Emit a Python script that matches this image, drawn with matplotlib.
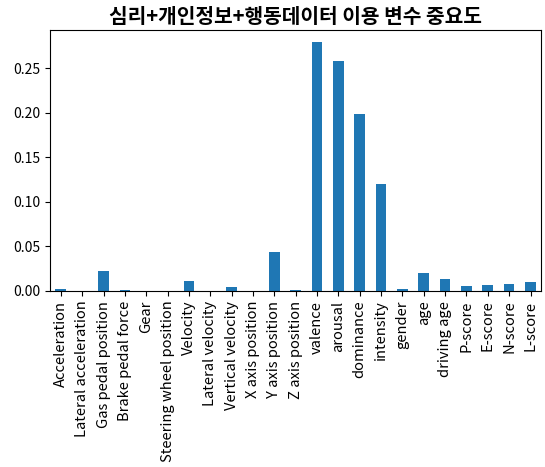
import matplotlib
matplotlib.use("Agg")
import matplotlib.pyplot as plt
import pandas as pd

plt.rcParams['font.family'] = ['Noto Sans CJK KR', 'DejaVu Sans']
plt.rcParams['axes.unicode_minus'] = False

features = ["Acceleration", "Lateral acceleration", "Gas pedal position", "Brake pedal force",
            "Gear", "Steering wheel position", "Velocity", "Lateral velocity", "Vertical velocity",
            "X axis position", "Y axis position", "Z axis position", "valence", "arousal",
            "dominance", "intensity", "gender", "age", "driving age", "P-score", "E-score",
            "N-score", "L-score"]
importance = [0.002, 0.0, 0.0224, 0.001, 0.0, 0.0, 0.011, 0.0, 0.004, 0.0, 0.0437, 0.001,
              0.279, 0.258, 0.198, 0.120, 0.002, 0.020, 0.013, 0.005, 0.007, 0.008, 0.010]
title = "심리+개인정보+행동데이터 이용 변수 중요도"

s = pd.Series(importance, index=features)
fig = plt.figure(figsize=(5.45, 4.67), dpi=100)
ax = fig.add_axes([0.092, 0.377, 0.901, 0.559])
s.plot(kind="bar", ax=ax, color="#1f77b4")
ax.set_title(title, fontsize=14.6, fontweight="bold", pad=5)
ax.tick_params(axis='x', labelsize=10.6)
ax.tick_params(axis='y', labelsize=10)
fig.savefig("out.png", dpi=100)
